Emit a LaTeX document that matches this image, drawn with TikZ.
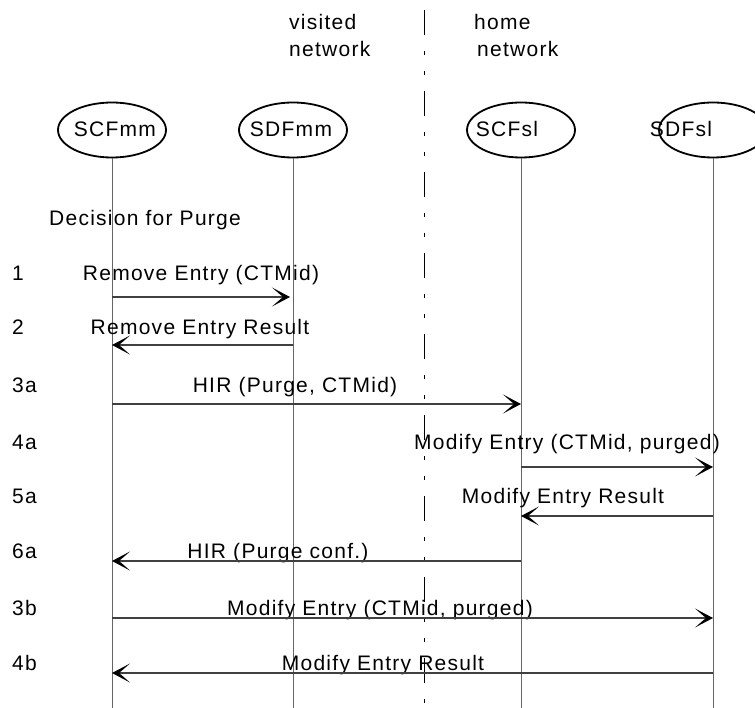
\documentclass[tikz,border=0pt]{standalone}
\usepackage{fontspec}
\setmainfont{Liberation Sans}[LetterSpace=6]
\usetikzlibrary{shapes.geometric,arrows.meta}
\begin{document}
\begin{tikzpicture}[x=1pt,y=-1pt]

      \tikzset{entity/.style={draw, ellipse, line width=1.8pt, minimum width=108pt, minimum height=55pt, inner sep=0pt},
               lifeline/.style={draw=black!60, line width=1pt},
               msg/.style={draw=black!75, line width=1.2pt, -{Stealth[length=18pt, width=19pt, inset=11pt, black]}},
               txt/.style={font=\fontsize{21}{25}\selectfont, inner sep=0pt}}
      \useasboundingbox (0,0) rectangle (755,708);
      \coordinate (bottom) at (0,708);
%% Networks
      	\node[txt, anchor=base west] (visited) at (289,30) {visited};
      	\node[txt, anchor=base west] (visitednet) at (289,57) {network};
      	\node[txt, anchor=base west] (home) at (474,30) {home};
      	\node[txt, anchor=base west] (homenet) at (477,57) {network};
      	\coordinate (divtop) at (424,10);
      	\draw[line width=1pt, dash pattern=on 25pt off 16pt on 4pt off 16pt on 4pt off 16pt] (divtop) -- (divtop |- bottom);
%% Entities
      	\node[entity] (scfmm) at (112,130) {};
      	\node[entity] (sdfmm) at (293,130) {};
    	\node[entity] (scfsl) at (521,130) {};
  	    \node[entity] (sdfsl) at (713,130) {};
      	\node[txt, anchor=base] (scfmmname) at (115,137) {SCFmm};
      	\node[txt, anchor=base] (sdfmmname) at (291,137) {SDFmm};
      	\node[txt, anchor=base] (scfslname) at (507,137) {SCFsl};
      	\node[txt, anchor=base] (sdfslname) at (681,137) {SDFsl};
      	\foreach \e in {scfmm,sdfmm,scfsl,sdfsl}
      	  \draw[lifeline] (\e.south) -- (\e.south |- bottom);
%Steps
      	\node[txt, anchor=base west] (decision) at (49,226) {Decision for Purge};
      	\foreach \s/\y in {1/281,2/335,3a/393,4a/449,5a/503,6a/558,3b/615,4b/670}
      	  \node[txt, anchor=base west] (step\s) at (12,\y) {\s};
%Messages
		\node[txt, anchor=base] (m1) at (201,281) {Remove Entry (CTMid)};
		\draw[msg, shorten >=3pt] (scfmm |- 0,297) -- (sdfmm |- 0,297);
		\node[txt, anchor=base] (m2) at (200,335) {Remove Entry Result};
		\draw[msg] (sdfmm |- 0,345) -- (scfmm |- 0,345);
		\node[txt, anchor=base] (m3a) at (295,393) {HIR (Purge, CTMid)};
		\draw[msg] (scfmm |- 0,404) -- (scfsl |- 0,404);
		\node[txt, anchor=base] (m4a) at (567,449) {Modify Entry (CTMid, purged)};
		\draw[msg] (scfsl |- 0,467) -- (sdfsl |- 0,467);
		\node[txt, anchor=base] (m5a) at (563,503) {Modify Entry Result};
		\draw[msg] (sdfsl |- 0,516) -- (scfsl |- 0,516);
		\node[txt, anchor=base] (m6a) at (278,558) {HIR (Purge conf.)};
		\draw[msg] (scfsl |- 0,561) -- (scfmm |- 0,561);
		\node[txt, anchor=base] (m3b) at (380,615) {Modify Entry (CTMid, purged)};
		\draw[msg] (scfmm |- 0,618) -- (sdfsl |- 0,618);
		\node[txt, anchor=base] (m4b) at (383,670) {Modify Entry Result};
		\draw[msg] (sdfsl |- 0,673) -- (scfmm |- 0,673);

	\end{tikzpicture}
\end{document}
